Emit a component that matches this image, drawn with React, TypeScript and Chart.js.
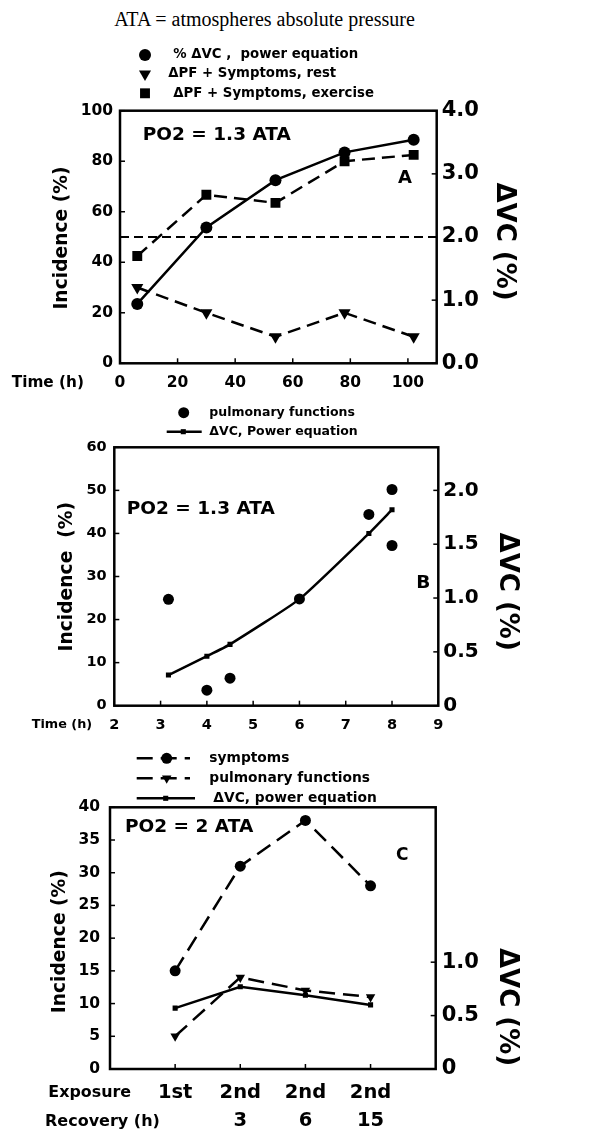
import React, { useEffect, useRef } from "react";
import { Chart, registerables } from "chart.js";
Chart.register(...registerables);

const FONT = "'DejaVu Sans', Verdana, sans-serif";
const W = 599;

// ---------- Panel A ----------
const aTimeH = [6, 30, 54, 78, 102];
const aDeltaVCPct = [0.94, 2.15, 2.9, 3.34, 3.54];
const aRestIncidence = [30, 20, 10.5, 20, 10.5];
const aExerciseIncidence = [42.5, 66.7, 63.5, 80, 82.5];
const aRefLineX = [0, 110];
const aRefLineY = [50, 50];
const aXTickValues = [0, 20, 40, 60, 80, 100];
const aLeftTickValues = [0, 20, 40, 60, 80, 100];
const aRightTickValues = [0, 1, 2, 3, 4];

// ---------- Panel B ----------
const bPulmTimeH = [3.17, 4, 4.5, 6, 7.5, 8, 8];
const bPulmIncidence = [24.7, 3.6, 6.4, 24.8, 44.4, 50.2, 37.2];
const bVCTimeH = [3.17, 4, 4.5, 6, 7.5, 8];
const bDeltaVCPct = [0.285, 0.46, 0.57, 0.99, 1.6, 1.82];
const bXTickValues = [2, 3, 4, 5, 6, 7, 8, 9];
const bLeftTickValues = [0, 10, 20, 30, 40, 50, 60];
const bRightTickValues = [0, 0.5, 1, 1.5, 2];

// ---------- Panel C ----------
const cExposure = ["1st", "2nd", "2nd", "2nd"];
const cRecoveryH = ["", "3", "6", "15"];
const cSymptoms = [15, 31, 38, 28];
const cPulmFunctions = [5, 14, 12, 11];
const cDeltaVCPct = [0.57, 0.77, 0.69, 0.6];
const cLeftTickValues = [0, 5, 10, 15, 20, 25, 30, 35, 40];
const cRightTickValues = [0, 0.5, 1];

type TextItem = { text: string; x: number; y: number; size: number; align?: CanvasTextAlign; rotate?: number; weight?: string };
type LegendRow = { ds: number; y: number; mx: number; tx: number; line?: [number, number] };

function drawMarker(ctx: CanvasRenderingContext2D, style: string, x: number, y: number, r: number, rot: number) {
  ctx.beginPath();
  if (style === "circle") {
    ctx.arc(x, y, r, 0, Math.PI * 2);
  } else if (style === "rect") {
    const s = Math.SQRT1_2 * r;
    ctx.rect(x - s, y - s, 2 * s, 2 * s);
  } else if (style === "triangle") {
    let a = (rot * Math.PI) / 180;
    ctx.moveTo(x + Math.sin(a) * r, y - Math.cos(a) * r);
    a += (2 * Math.PI) / 3;
    ctx.lineTo(x + Math.sin(a) * r, y - Math.cos(a) * r);
    a += (2 * Math.PI) / 3;
    ctx.lineTo(x + Math.sin(a) * r, y - Math.cos(a) * r);
    ctx.closePath();
  }
  ctx.fill();
}

function makeDecor(oy: number, texts: TextItem[], legend: LegendRow[], legendSize: number) {
  return {
    id: "decor",
    afterDraw(chart: any) {
      const ctx: CanvasRenderingContext2D = chart.ctx;
      const a = chart.chartArea;
      ctx.save();
      ctx.strokeStyle = "#000";
      ctx.fillStyle = "#000";
      // inward tick marks
      ctx.lineWidth = 1.5;
      const tl = 5;
      Object.values(chart.scales).forEach((s: any) => {
        s.ticks.forEach((t: any) => {
          const p = s.getPixelForValue(t.value);
          ctx.beginPath();
          if (s.isHorizontal()) {
            ctx.moveTo(p, a.bottom);
            ctx.lineTo(p, a.bottom - tl);
          } else if (s.position === "left") {
            ctx.moveTo(a.left, p);
            ctx.lineTo(a.left + tl, p);
          } else {
            ctx.moveTo(a.right, p);
            ctx.lineTo(a.right - tl, p);
          }
          ctx.stroke();
        });
      });
      // frame
      ctx.lineWidth = 2.5;
      ctx.strokeRect(a.left, a.top, a.right - a.left, a.bottom - a.top);
      // texts
      texts.forEach((t) => {
        ctx.save();
        ctx.font = `${t.weight ?? "bold"} ${t.size}px ${FONT}`;
        ctx.textAlign = t.align ?? "left";
        ctx.textBaseline = "middle";
        ctx.translate(t.x, t.y - oy);
        if (t.rotate) ctx.rotate(t.rotate);
        ctx.fillText(t.text, 0, 0);
        ctx.restore();
      });
      // legend
      legend.forEach((row) => {
        const ds = chart.data.datasets[row.ds];
        const y = row.y - oy;
        if (row.line) {
          ctx.save();
          ctx.lineWidth = 2.5;
          ctx.setLineDash(ds.borderDash || []);
          ctx.beginPath();
          ctx.moveTo(row.line[0], y);
          ctx.lineTo(row.line[1], y);
          ctx.stroke();
          ctx.restore();
        }
        drawMarker(ctx, ds.pointStyle, row.mx, y, ds.pointRadius, ds.pointRotation || 0);
        ctx.font = `bold ${legendSize}px ${FONT}`;
        ctx.textAlign = "left";
        ctx.textBaseline = "middle";
        ctx.fillText(ds.label, row.tx, y);
      });
      ctx.restore();
    },
  };
}

function yScale(position: string, min: number, max: number, ticks: number[], width: number, pad: number, size: number, fmt?: (v: number) => string) {
  return {
    type: "linear",
    position,
    min,
    max,
    afterBuildTicks: (s: any) => {
      s.ticks = ticks.map((v) => ({ value: v }));
    },
    afterFit: (s: any) => {
      s.width = width;
    },
    grid: { display: false, drawTicks: false },
    border: { display: false },
    ticks: {
      color: "#000",
      padding: pad,
      font: { family: FONT, size, weight: "bold" },
      callback: fmt ? (v: any) => fmt(Number(v)) : (v: any) => String(v),
    },
  };
}

function xScale(min: number, max: number, ticks: number[], height: number, pad: number, size: number, fmt?: (v: number) => any, lineHeight = 1.2) {
  return {
    type: "linear",
    position: "bottom",
    min,
    max,
    afterBuildTicks: (s: any) => {
      s.ticks = ticks.map((v) => ({ value: v }));
    },
    afterFit: (s: any) => {
      s.height = height;
    },
    grid: { display: false, drawTicks: false },
    border: { display: false },
    ticks: {
      color: "#000",
      padding: pad,
      autoSkip: false,
      maxRotation: 0,
      minRotation: 0,
      font: { family: FONT, size, weight: "bold", lineHeight },
      callback: fmt ? (v: any) => fmt(Number(v)) : (v: any) => String(v),
    },
  };
}

const baseDs = {
  borderColor: "#000",
  backgroundColor: "#000",
  pointBackgroundColor: "#000",
  pointBorderColor: "#000",
  pointBorderWidth: 0,
  borderWidth: 2.5,
  fill: false,
  tension: 0,
};

const commonOpts = (padding: any) => ({
  responsive: false,
  animation: false,
  events: [],
  layout: { padding },
  plugins: { legend: { display: false }, tooltip: { enabled: false }, title: { display: false } },
});

// Panel A: canvas top 30, height 370; plot box 120..436.7 x 110.7..363.3
const A_TOP = 30;
const A_H = 370;
function configA(): any {
  return {
    type: "line",
    data: {
      datasets: [
        { ...baseDs, label: "% ΔVC ,  power equation", yAxisID: "yR", data: aTimeH.map((x, i) => ({ x, y: aDeltaVCPct[i] })), pointStyle: "circle", pointRadius: 6 },
        { ...baseDs, label: "ΔPF + Symptoms, rest", yAxisID: "y", borderDash: [13, 7], data: aTimeH.map((x, i) => ({ x, y: aRestIncidence[i] })), pointStyle: "triangle", pointRotation: 180, pointRadius: 7 },
        { ...baseDs, label: "ΔPF + Symptoms, exercise", yAxisID: "y", borderDash: [13, 7], data: aTimeH.map((x, i) => ({ x, y: aExerciseIncidence[i] })), pointStyle: "rect", pointRadius: 7 },
        { ...baseDs, label: "50%", yAxisID: "y", borderWidth: 2, borderDash: [9, 5], data: aRefLineX.map((x, i) => ({ x, y: aRefLineY[i] })), pointRadius: 0 },
      ],
    },
    options: {
      ...commonOpts({ top: 110.7 - A_TOP, bottom: 0, left: 0, right: 0 }),
      scales: {
        x: xScale(0, 110, aXTickValues, A_H - (363.3 - A_TOP), 10.5, 15.5),
        y: yScale("left", 0, 100, aLeftTickValues, 120, 7, 15.5),
        yR: yScale("right", 0, 4, aRightTickValues, W - 436.7, 5, 21, (v) => v.toFixed(1)),
      },
    },
    plugins: [
      makeDecor(
        A_TOP,
        [
          { text: "PO2 = 1.3 ATA", x: 142.7, y: 135, size: 18.5 },
          { text: "A", x: 405, y: 178, size: 18, align: "center" },
          { text: "Time (h)", x: 11.7, y: 383, size: 15.3 },
          { text: "Incidence (%)", x: 61.7, y: 238, size: 18.7, align: "center", rotate: -Math.PI / 2 },
          { text: "ΔVC (%)", x: 503.3, y: 241.5, size: 26, align: "center", rotate: Math.PI / 2 },
        ],
        [
          { ds: 0, y: 55, mx: 145, tx: 173.3 },
          { ds: 1, y: 74, mx: 145, tx: 168.3 },
          { ds: 2, y: 93.3, mx: 145, tx: 173.3 },
        ],
        13.3
      ),
    ],
  };
}

// Panel B: canvas top 400, height 335; plot box 114.3..438.3 x 447.3..705.7
const B_TOP = 400;
const B_H = 335;
function configB(): any {
  return {
    type: "line",
    data: {
      datasets: [
        { ...baseDs, label: "pulmonary functions", yAxisID: "y", showLine: false, data: bPulmTimeH.map((x, i) => ({ x, y: bPulmIncidence[i] })), pointStyle: "circle", pointRadius: 5.5 },
        { ...baseDs, label: "ΔVC, Power equation", yAxisID: "yR", tension: 0.15, data: bVCTimeH.map((x, i) => ({ x, y: bDeltaVCPct[i] })), pointStyle: "rect", pointRadius: 3.6 },
      ],
    },
    options: {
      ...commonOpts({ top: 447.3 - B_TOP, bottom: 0, left: 0, right: 0 }),
      scales: {
        x: xScale(2, 9, bXTickValues, B_H - (705.7 - B_TOP), 11, 14.5),
        y: yScale("left", 0, 60, bLeftTickValues, 114.3, 7.6, 14.5),
        yR: yScale("right", 0, 2.4, bRightTickValues, W - 438.3, 5, 20, (v) => (v === 0 ? "0" : v.toFixed(1))),
      },
    },
    plugins: [
      makeDecor(
        B_TOP,
        [
          { text: "PO2 = 1.3 ATA", x: 126.7, y: 509, size: 18.5 },
          { text: "B", x: 423.3, y: 582.7, size: 18.5, align: "center" },
          { text: "Time (h)", x: 31.7, y: 725, size: 12.8 },
          { text: "Incidence  (%)", x: 66.7, y: 576.7, size: 18.7, align: "center", rotate: -Math.PI / 2 },
          { text: "ΔVC (%)", x: 506.7, y: 591.7, size: 26, align: "center", rotate: Math.PI / 2 },
        ],
        [
          { ds: 0, y: 412.7, mx: 183.7, tx: 209.3 },
          { ds: 1, y: 431.7, mx: 183.3, tx: 209.3, line: [166.7, 201.7] },
        ],
        12.5
      ),
    ],
  };
}

// Panel C: canvas top 735, height 397; plot box 110..435.7 x 807.3..1069
const C_TOP = 735;
const C_H = 397;
function configC(): any {
  const pos = cExposure.map((_, i) => i + 1);
  return {
    type: "line",
    data: {
      datasets: [
        { ...baseDs, label: "symptoms", yAxisID: "y", borderDash: [16, 8], data: pos.map((x, i) => ({ x, y: cSymptoms[i] })), pointStyle: "circle", pointRadius: 5.5 },
        { ...baseDs, label: "pulmonary functions", yAxisID: "y", borderDash: [16, 8], data: pos.map((x, i) => ({ x, y: cPulmFunctions[i] })), pointStyle: "triangle", pointRotation: 180, pointRadius: 5.5 },
        { ...baseDs, label: "ΔVC, power equation", yAxisID: "yR", data: pos.map((x, i) => ({ x, y: cDeltaVCPct[i] })), pointStyle: "rect", pointRadius: 3.6 },
      ],
    },
    options: {
      ...commonOpts({ top: 807.3 - C_TOP, bottom: 0, left: 0, right: 0 }),
      scales: {
        x: xScale(0, 5, pos, C_H - (1069 - C_TOP), 10.5, 19.5, (v) => [cExposure[v - 1], cRecoveryH[v - 1]], 1.4),
        y: yScale("left", 0, 40, cLeftTickValues, 110, 10, 15.5),
        yR: yScale("right", 0, 2.45, cRightTickValues, W - 435.7, 6, 21, (v) => (v === 0 ? "0" : v.toFixed(1))),
      },
    },
    plugins: [
      makeDecor(
        C_TOP,
        [
          { text: "PO2 = 2 ATA", x: 125, y: 826.7, size: 18.5 },
          { text: "C", x: 402.3, y: 855.7, size: 17, align: "center" },
          { text: "Exposure", x: 48.3, y: 1093.3, size: 15.9 },
          { text: "Recovery (h)", x: 45, y: 1121.7, size: 16 },
          { text: "Incidence (%)", x: 60, y: 941.7, size: 18.7, align: "center", rotate: -Math.PI / 2 },
          { text: "ΔVC (%)", x: 506.7, y: 1007, size: 26, align: "center", rotate: Math.PI / 2 },
        ],
        [
          { ds: 0, y: 758.3, mx: 166.7, tx: 209.3, line: [136.7, 190] },
          { ds: 1, y: 778.3, mx: 166.7, tx: 209.3, line: [136.7, 190] },
          { ds: 2, y: 798.3, mx: 165.7, tx: 213.3, line: [136.7, 195] },
        ],
        13.8
      ),
    ],
  };
}

function Panel({ top, height, make }: { top: number; height: number; make: () => any }) {
  const ref = useRef<HTMLCanvasElement>(null);
  useEffect(() => {
    const chart = new Chart(ref.current as HTMLCanvasElement, make());
    return () => chart.destroy();
  }, []);
  return (
    <canvas
      ref={ref}
      width={W}
      height={height}
      style={{ position: "absolute", left: 0, top, width: W, height, display: "block" }}
    />
  );
}

export default function App() {
  return (
    <div style={{ position: "absolute", left: 0, top: 0, width: W, height: 1132, background: "#fff", overflow: "hidden" }}>
      <div
        style={{
          position: "absolute",
          left: 0,
          top: 9,
          width: 529,
          textAlign: "center",
          fontFamily: "'Liberation Serif', 'Times New Roman', serif",
          fontSize: 20,
          lineHeight: "20px",
          color: "#000",
          whiteSpace: "nowrap",
        }}
      >
        ATA = atmospheres absolute pressure
      </div>
      <Panel top={A_TOP} height={A_H} make={configA} />
      <Panel top={B_TOP} height={B_H} make={configB} />
      <Panel top={C_TOP} height={C_H} make={configC} />
    </div>
  );
}
